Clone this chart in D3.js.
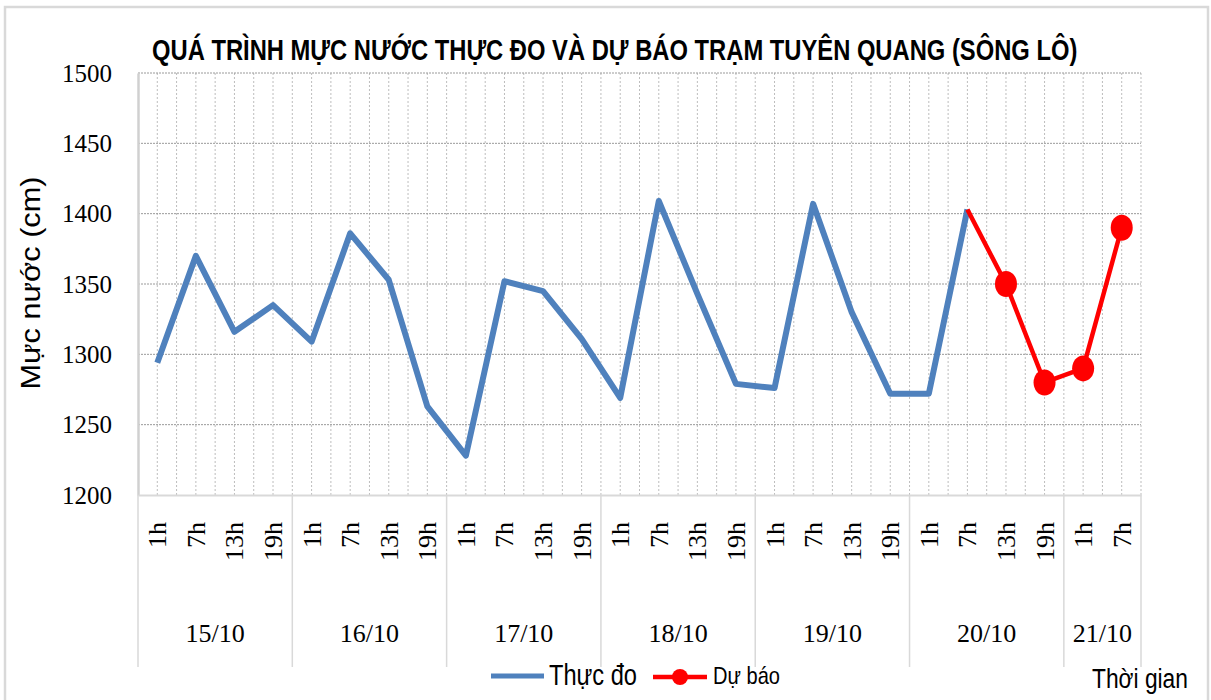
<!DOCTYPE html>
<html>
<head>
<meta charset="utf-8">
<script src="https://cdn.jsdelivr.net/npm/d3@7"></script>
<style>
  body { margin: 0; background: #fff; }
  svg { display: block; }
</style>
</head>
<body>
<div id="chart"></div>
<script>
(function () {
    "use strict";

    // ngày và giờ quan trắc
    var days = ["15/10", "16/10", "17/10", "18/10", "19/10", "20/10", "21/10"];
    var hoursPerDay = [4, 4, 4, 4, 4, 4, 2];
    var hourLabels = ["1h", "7h", "13h", "19h"];

    // mực nước thực đo (cm)
    var observed = [1294, 1370, 1316, 1335, 1309, 1386, 1353, 1263,
        1228, 1352, 1345, 1311, 1269, 1409, 1343, 1279,
        1276, 1407, 1330, 1272, 1272, 1403];
    // mực nước dự báo (cm), bắt đầu từ 7h 20/10
    var forecastStart = 21;
    var forecast = [1403, 1350, 1280, 1290, 1390];

    var yTicks = [1200, 1250, 1300, 1350, 1400, 1450, 1500];

    var width = 1211, height = 700;
    var left = 138, right = 1141, top = 73, bottom = 495;

    var categories = [];
    days.forEach(function (d, i) {
        for (var k = 0; k < hoursPerDay[i]; k++) {
            categories.push({ key: d + "-" + hourLabels[k], hour: hourLabels[k], day: d });
        }
    });

    var svg = d3.select("#chart").append("svg")
        .attr("width", width)
        .attr("height", height);

    // khung ngoài
    svg.append("rect")
        .attr("x", 5).attr("y", 7)
        .attr("width", 1203).attr("height", 700)
        .attr("fill", "#fff")
        .attr("stroke", "#d9d9d9")
        .attr("stroke-width", 2.5);

    var x = d3.scaleBand()
        .domain(categories.map(function (c) { return c.key; }))
        .range([left, right])
        .paddingInner(0).paddingOuter(0);
    var bw = x.bandwidth();
    var cx = function (i) { return x(categories[i].key) + bw / 2; };

    var y = d3.scaleLinear().domain([1200, 1500]).range([bottom, top]);

    // lưới dọc (ranh giới và giữa mỗi mục)
    var vLines = [];
    for (var i = 0; i <= categories.length * 2; i++) vLines.push(left + i * bw / 2);
    svg.append("g").selectAll("line")
        .data(vLines.slice(1))
        .enter().append("line")
        .attr("x1", function (d) { return d; })
        .attr("x2", function (d) { return d; })
        .attr("y1", top).attr("y2", bottom)
        .attr("stroke", "#bdbdbd")
        .attr("stroke-width", 1)
        .attr("stroke-dasharray", "2,2");

    // lưới ngang
    svg.append("g").selectAll("line")
        .data(yTicks.slice(1))
        .enter().append("line")
        .attr("x1", left).attr("x2", right)
        .attr("y1", function (d) { return y(d); })
        .attr("y2", function (d) { return y(d); })
        .attr("stroke", "#9a9a9a")
        .attr("stroke-width", 1)
        .attr("stroke-dasharray", "2,1");

    // trục y
    var yAxis = svg.append("g")
        .attr("transform", "translate(" + left + ",0)")
        .call(d3.axisLeft(y).tickValues(yTicks).tickFormat(d3.format("d"))
            .tickSize(0).tickPadding(26));
    yAxis.select(".domain").attr("stroke", "#d0d0d0").attr("stroke-width", 2.5);
    yAxis.selectAll("text")
        .attr("font-family", "'Liberation Serif', 'Times New Roman', serif")
        .attr("font-size", 25)
        .attr("fill", "#000");

    // trục x: giờ
    var xAxis = svg.append("g")
        .attr("transform", "translate(0," + bottom + ")")
        .call(d3.axisBottom(x).tickSize(0).tickFormat(function (k) {
            return k.split("-")[1];
        }));
    xAxis.select(".domain").attr("stroke", "#d9d9d9").attr("stroke-width", 2);
    xAxis.selectAll("text")
        .attr("font-family", "'Liberation Serif', 'Times New Roman', serif")
        .attr("font-size", 26)
        .attr("fill", "#000")
        .attr("text-anchor", "end")
        .attr("dy", null)
        .attr("y", 0)
        .attr("transform", "translate(9,27) rotate(-90)");

    // ranh giới ngày
    var dayStart = [0];
    hoursPerDay.forEach(function (n, i) { dayStart.push(dayStart[i] + n); });
    svg.append("g").selectAll("line")
        .data(dayStart)
        .enter().append("line")
        .attr("x1", function (d) { return left + d * bw; })
        .attr("x2", function (d) { return left + d * bw; })
        .attr("y1", bottom).attr("y2", 667)
        .attr("stroke", "#d9d9d9")
        .attr("stroke-width", 1.5);

    svg.append("g").selectAll("text")
        .data(days)
        .enter().append("text")
        .attr("x", function (d, i) { return left + (dayStart[i] + hoursPerDay[i] / 2) * bw; })
        .attr("y", 642)
        .attr("text-anchor", "middle")
        .attr("font-family", "'Liberation Serif', 'Times New Roman', serif")
        .attr("font-size", 26)
        .attr("fill", "#000")
        .text(function (d) { return d; });

    // đường thực đo
    var line = d3.line()
        .x(function (d) { return cx(d.i); })
        .y(function (d) { return y(d.v); });

    var obsData = observed.map(function (v, i) { return { i: i, v: v }; });
    var fcData = forecast.map(function (v, i) { return { i: forecastStart + i, v: v }; });

    svg.append("path")
        .datum(obsData)
        .attr("d", line)
        .attr("fill", "none")
        .attr("stroke", "#4f81bd")
        .attr("stroke-width", 6)
        .attr("stroke-linejoin", "round");

    svg.append("path")
        .datum(fcData)
        .attr("d", line)
        .attr("fill", "none")
        .attr("stroke", "#ff0000")
        .attr("stroke-width", 4.5)
        .attr("stroke-linejoin", "round");

    svg.append("g").selectAll("ellipse")
        .data(fcData.slice(1))
        .enter().append("ellipse")
        .attr("cx", function (d) { return cx(d.i); })
        .attr("cy", function (d) { return y(d.v); })
        .attr("rx", 11)
        .attr("ry", 13)
        .attr("fill", "#ff0000");

    // chữ co giãn ngang cho vừa bề rộng cho trước
    function fitText(sel, x0, y0, w) {
        var natural = sel.node().getComputedTextLength();
        sel.attr("transform", "translate(" + x0 + "," + y0 + ") scale(" + (w / natural) + ",1)");
        return sel;
    }

    // tiêu đề
    var title = svg.append("text")
        .attr("font-family", "'Liberation Sans Narrow', 'Liberation Sans', Arial, sans-serif")
        .attr("font-weight", "bold")
        .attr("font-size", 30)
        .attr("fill", "#000")
        .text("QUÁ TRÌNH MỰC NƯỚC THỰC ĐO VÀ DỰ BÁO TRẠM TUYÊN QUANG (SÔNG LÔ)");
    fitText(title, 152, 60, 926);

    // nhãn trục y
    svg.append("text")
        .attr("transform", "translate(40,283) rotate(-90)")
        .attr("text-anchor", "middle")
        .attr("font-family", "'Liberation Sans', Arial, sans-serif")
        .attr("font-size", 28)
        .attr("textLength", 213)
        .attr("lengthAdjust", "spacingAndGlyphs")
        .attr("fill", "#000")
        .text("Mực nước (cm)");

    // chú giải
    var legend = svg.append("g");
    legend.append("line")
        .attr("x1", 491).attr("x2", 544).attr("y1", 676).attr("y2", 676)
        .attr("stroke", "#4f81bd").attr("stroke-width", 5);
    var t1 = legend.append("text")
        .attr("font-family", "'Liberation Sans Narrow', 'Liberation Sans', Arial, sans-serif")
        .attr("font-size", 30)
        .attr("fill", "#000")
        .text("Thực đo");
    fitText(t1, 549, 685, 88);
    legend.append("line")
        .attr("x1", 653).attr("x2", 707).attr("y1", 677).attr("y2", 677)
        .attr("stroke", "#ff0000").attr("stroke-width", 4.5);
    legend.append("circle")
        .attr("cx", 680).attr("cy", 677).attr("r", 8)
        .attr("fill", "#ff0000");
    var t2 = legend.append("text")
        .attr("font-family", "'Liberation Sans Narrow', 'Liberation Sans', Arial, sans-serif")
        .attr("font-size", 24)
        .attr("fill", "#000")
        .text("Dự báo");
    fitText(t2, 713, 684, 67);

    // nhãn trục x
    var t3 = svg.append("text")
        .attr("font-family", "'Liberation Sans Narrow', 'Liberation Sans', Arial, sans-serif")
        .attr("font-size", 28)
        .attr("fill", "#000")
        .text("Thời gian");
    fitText(t3, 1092, 688, 96);
})();
</script>
</body>
</html>
